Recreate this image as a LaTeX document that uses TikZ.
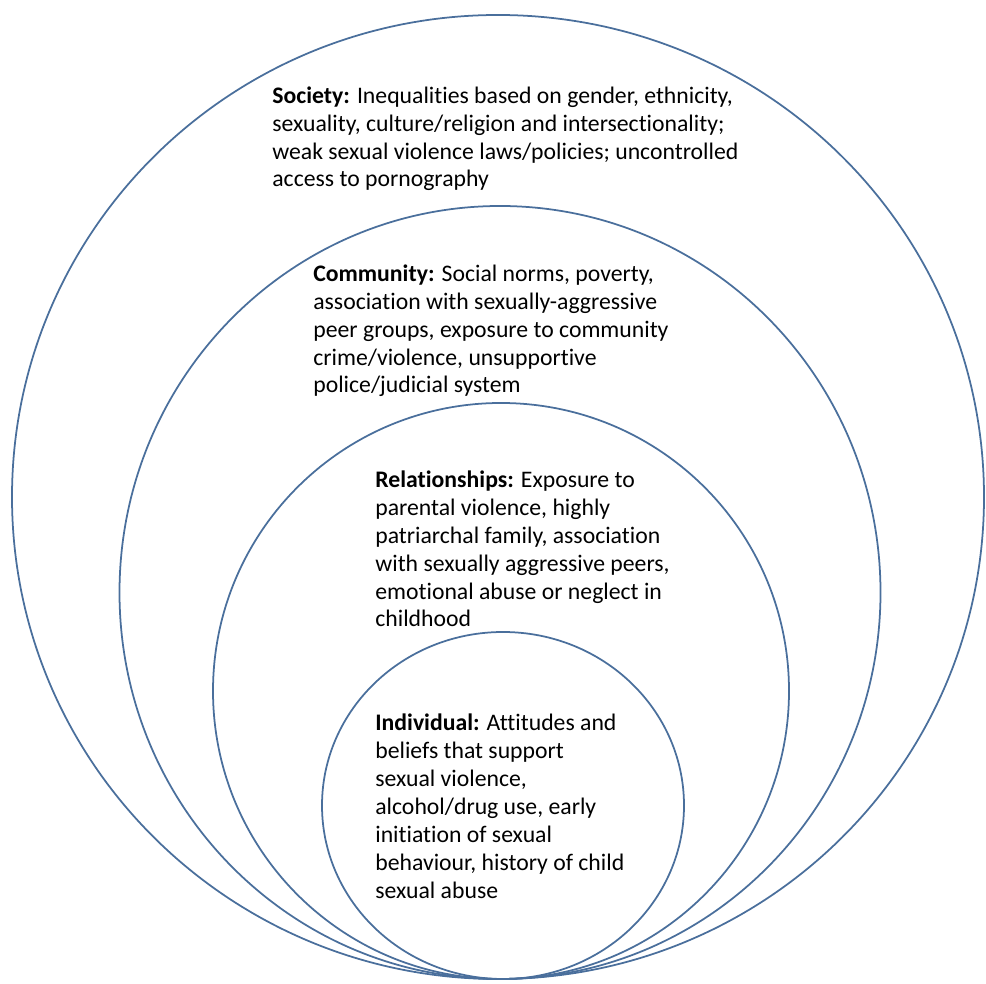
\documentclass[tikz,border=0pt]{standalone}
\usepackage{fontspec}
\setmainfont{Carlito}[Ligatures=NoCommon]
\usetikzlibrary{positioning}

\definecolor{ringblue}{RGB}{74,111,156}

\tikzset{
  ring/.style={draw=ringblue, line width=1pt},
  level/.style={anchor=base west, align=left, inner sep=0pt,
    font=\fontsize{13.5}{15.9}\selectfont}
}

\begin{document}
\begin{tikzpicture}
\useasboundingbox (0,0) rectangle (19.72,19.66);

% Anillos del modelo ecologico, tangentes abajo
\draw[ring] (9.96,9.72) ellipse [x radius=9.72, y radius=9.64];
\draw[ring] (10.00,7.81) ellipse [x radius=7.61, y radius=7.73];
\draw[ring] (10.02,5.84) ellipse [x radius=5.76, y radius=5.76];
\draw[ring] (10.06,3.55) ellipse [x radius=3.62, y radius=3.47];

% Sociedad (posicion = ultima linea)
\node (society) at (5.44,15.92) [level] {\textbf{Society:} Inequalities based on gender, ethnicity,\\
sexuality, culture/religion and intersectionality;\\
weak sexual violence laws/policies; uncontrolled\\
access to pornography};

% Comunidad
\node (community) at (6.26,11.80) [level] {\textbf{Community:} Social norms, poverty,\\
association with sexually-aggressive\\
peer groups, exposure to community\\
crime/violence, unsupportive\\
police/judicial system};

% Relaciones
\node (relationships) at (7.50,7.12) [level] {\textbf{Relationships:} Exposure to\\
parental violence, highly\\
patriarchal family, association\\
with sexually aggressive peers,\\
emotional abuse or neglect in\\
childhood};

% Individuo
\node (individual) at (7.50,1.70) [level] {\textbf{Individual:} Attitudes and\\
beliefs that support\\
sexual violence,\\
alcohol/drug use, early\\
initiation of sexual\\
behaviour, history of child\\
sexual abuse};
\end{tikzpicture}
\end{document}
